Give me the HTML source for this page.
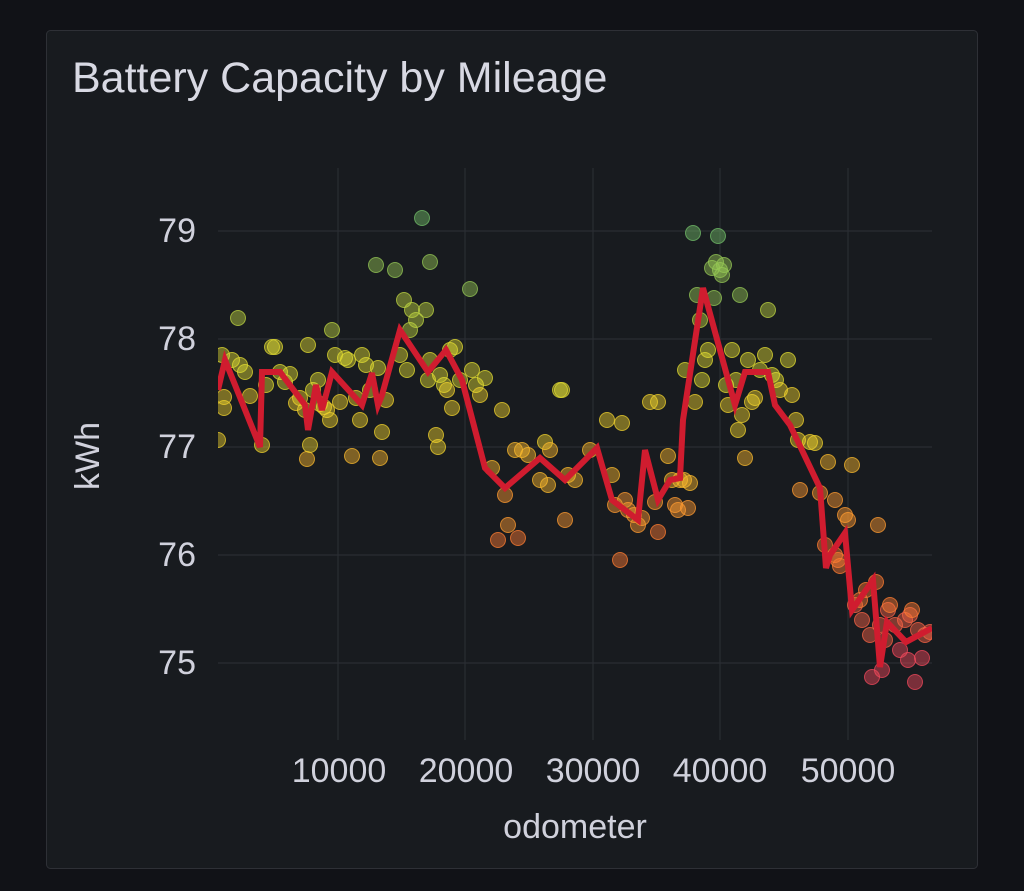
<!DOCTYPE html><html><head><style>
body{margin:0;background:#111217;width:1024px;height:886px;overflow:hidden;font-family:"Liberation Sans",sans-serif}
circle{stroke-width:1}
.g1{fill:rgba(115,191,105,.45);stroke:rgba(115,191,105,.75)}
.g2{fill:rgba(150,200,85,.45);stroke:rgba(150,200,85,.75)}
.g3{fill:rgba(190,212,65,.45);stroke:rgba(190,212,65,.75)}
.y1{fill:rgba(225,220,50,.45);stroke:rgba(225,220,50,.75)}
.y2{fill:rgba(240,210,45,.45);stroke:rgba(240,210,45,.75)}
.o1{fill:rgba(250,185,45,.45);stroke:rgba(250,185,45,.75)}
.o2{fill:rgba(255,155,48,.45);stroke:rgba(255,155,48,.75)}
.o3{fill:rgba(255,125,50,.45);stroke:rgba(255,125,50,.75)}
.r1{fill:rgba(248,100,70,.45);stroke:rgba(248,100,70,.75)}
.r2{fill:rgba(242,73,92,.45);stroke:rgba(242,73,92,.75)}
</style></head><body>
<svg width="1024" height="886" xmlns="http://www.w3.org/2000/svg">
<rect x="0" y="0" width="1024" height="886" fill="#111217"/>
<rect x="46.5" y="30.5" width="931" height="838" rx="4" fill="#181b1f" stroke="#2e3036"/>
<text x="72" y="92" font-size="43" fill="#d8d9e3">Battery Capacity by Mileage</text>
<g stroke="#2a2d33" stroke-width="1.2">
<line x1="218" x2="932" y1="231" y2="231"/><line x1="218" x2="932" y1="339" y2="339"/><line x1="218" x2="932" y1="447" y2="447"/><line x1="218" x2="932" y1="555" y2="555"/><line x1="218" x2="932" y1="663" y2="663"/>
<line x1="338" x2="338" y1="168" y2="740"/><line x1="465" x2="465" y1="168" y2="740"/><line x1="593" x2="593" y1="168" y2="740"/><line x1="720" x2="720" y1="168" y2="740"/><line x1="848" x2="848" y1="168" y2="740"/>
</g>
<g font-size="34" fill="#d0d1dc" text-anchor="end">
<text x="196" y="242">79</text><text x="196" y="350">78</text><text x="196" y="458">77</text><text x="196" y="566">76</text><text x="196" y="674">75</text></g>
<g font-size="34" fill="#d0d1dc" text-anchor="middle">
<text x="339" y="782">10000</text><text x="466" y="782">20000</text><text x="593" y="782">30000</text><text x="720" y="782">40000</text><text x="848" y="782">50000</text>
<text x="575" y="838">odometer</text>
<text transform="translate(99,456) rotate(-90)">kWh</text></g>
<defs><clipPath id="c"><rect x="218" y="160" width="714" height="590"/></clipPath></defs>
<g clip-path="url(#c)">
<circle class="y2" cx="218" cy="440" r="7.5"/><circle class="y1" cx="222" cy="355" r="7.5"/><circle class="y2" cx="224" cy="397" r="7.5"/><circle class="y2" cx="224" cy="408" r="7.5"/><circle class="y1" cx="232" cy="360" r="7.5"/><circle class="g3" cx="238" cy="318" r="7.5"/><circle class="y1" cx="240" cy="365" r="7.5"/><circle class="y1" cx="245" cy="372" r="7.5"/><circle class="y2" cx="250" cy="396" r="7.5"/><circle class="y2" cx="262" cy="445" r="7.5"/>
<circle class="y1" cx="266" cy="385" r="7.5"/><circle class="y1" cx="272" cy="347" r="7.5"/><circle class="y1" cx="275" cy="347" r="7.5"/><circle class="y1" cx="280" cy="372" r="7.5"/><circle class="y1" cx="285" cy="382" r="7.5"/><circle class="y1" cx="290" cy="374" r="7.5"/><circle class="y2" cx="296" cy="403" r="7.5"/><circle class="y2" cx="300" cy="398" r="7.5"/><circle class="y2" cx="305" cy="410" r="7.5"/><circle class="o1" cx="307" cy="459" r="7.5"/>
<circle class="y1" cx="308" cy="345" r="7.5"/><circle class="y2" cx="310" cy="445" r="7.5"/><circle class="y1" cx="313" cy="390" r="7.5"/><circle class="y1" cx="318" cy="380" r="7.5"/><circle class="y2" cx="320" cy="404" r="7.5"/><circle class="y2" cx="324" cy="407" r="7.5"/><circle class="y2" cx="327" cy="410" r="7.5"/><circle class="y2" cx="330" cy="420" r="7.5"/><circle class="g3" cx="332" cy="330" r="7.5"/><circle class="y1" cx="335" cy="355" r="7.5"/>
<circle class="y2" cx="340" cy="402" r="7.5"/><circle class="y1" cx="345" cy="358" r="7.5"/><circle class="y1" cx="348" cy="360" r="7.5"/><circle class="o1" cx="352" cy="456" r="7.5"/><circle class="y2" cx="356" cy="398" r="7.5"/><circle class="y2" cx="360" cy="420" r="7.5"/><circle class="y1" cx="362" cy="355" r="7.5"/><circle class="y1" cx="366" cy="365" r="7.5"/><circle class="y1" cx="370" cy="390" r="7.5"/><circle class="g2" cx="376" cy="265" r="7.5"/>
<circle class="y1" cx="378" cy="368" r="7.5"/><circle class="o1" cx="380" cy="458" r="7.5"/><circle class="y2" cx="382" cy="432" r="7.5"/><circle class="y2" cx="386" cy="400" r="7.5"/><circle class="g2" cx="395" cy="270" r="7.5"/><circle class="y1" cx="400" cy="355" r="7.5"/><circle class="g3" cx="404" cy="300" r="7.5"/><circle class="y1" cx="407" cy="370" r="7.5"/><circle class="g3" cx="410" cy="330" r="7.5"/><circle class="g3" cx="412" cy="310" r="7.5"/>
<circle class="g3" cx="416" cy="320" r="7.5"/><circle class="g1" cx="422" cy="218" r="7.5"/><circle class="g3" cx="426" cy="310" r="7.5"/><circle class="y1" cx="428" cy="380" r="7.5"/><circle class="g2" cx="430" cy="262" r="7.5"/><circle class="y1" cx="430" cy="360" r="7.5"/><circle class="y2" cx="436" cy="435" r="7.5"/><circle class="y2" cx="438" cy="447" r="7.5"/><circle class="y1" cx="440" cy="375" r="7.5"/><circle class="y1" cx="444" cy="385" r="7.5"/>
<circle class="y2" cx="447" cy="390" r="7.5"/><circle class="y1" cx="450" cy="350" r="7.5"/><circle class="y1" cx="455" cy="347" r="7.5"/><circle class="y2" cx="452" cy="408" r="7.5"/><circle class="y1" cx="460" cy="380" r="7.5"/><circle class="g2" cx="470" cy="289" r="7.5"/><circle class="y1" cx="472" cy="370" r="7.5"/><circle class="y1" cx="476" cy="385" r="7.5"/><circle class="y2" cx="480" cy="395" r="7.5"/><circle class="y1" cx="485" cy="378" r="7.5"/>
<circle class="o1" cx="492" cy="468" r="7.5"/><circle class="o3" cx="498" cy="540" r="7.5"/><circle class="y2" cx="502" cy="410" r="7.5"/><circle class="o2" cx="505" cy="495" r="7.5"/><circle class="o2" cx="508" cy="525" r="7.5"/><circle class="o1" cx="515" cy="450" r="7.5"/><circle class="o3" cx="518" cy="538" r="7.5"/><circle class="o1" cx="522" cy="450" r="7.5"/><circle class="o1" cx="528" cy="455" r="7.5"/><circle class="o1" cx="540" cy="480" r="7.5"/>
<circle class="y2" cx="545" cy="442" r="7.5"/><circle class="o1" cx="548" cy="485" r="7.5"/><circle class="o1" cx="550" cy="450" r="7.5"/><circle class="y1" cx="560" cy="390" r="7.5"/><circle class="y1" cx="562" cy="390" r="7.5"/><circle class="o2" cx="565" cy="520" r="7.5"/><circle class="o1" cx="568" cy="475" r="7.5"/><circle class="o1" cx="575" cy="480" r="7.5"/><circle class="o1" cx="590" cy="450" r="7.5"/><circle class="y2" cx="607" cy="420" r="7.5"/>
<circle class="o1" cx="612" cy="475" r="7.5"/><circle class="o2" cx="615" cy="505" r="7.5"/><circle class="o3" cx="620" cy="560" r="7.5"/><circle class="y2" cx="622" cy="423" r="7.5"/><circle class="o2" cx="625" cy="500" r="7.5"/><circle class="o2" cx="628" cy="510" r="7.5"/><circle class="o2" cx="634" cy="515" r="7.5"/><circle class="o2" cx="638" cy="525" r="7.5"/><circle class="o2" cx="642" cy="518" r="7.5"/><circle class="y2" cx="650" cy="402" r="7.5"/>
<circle class="o2" cx="655" cy="502" r="7.5"/><circle class="y2" cx="658" cy="402" r="7.5"/><circle class="o3" cx="658" cy="532" r="7.5"/><circle class="o1" cx="668" cy="456" r="7.5"/><circle class="o1" cx="672" cy="480" r="7.5"/><circle class="o2" cx="675" cy="505" r="7.5"/><circle class="o2" cx="678" cy="510" r="7.5"/><circle class="o1" cx="680" cy="480" r="7.5"/><circle class="o1" cx="684" cy="480" r="7.5"/><circle class="y1" cx="685" cy="370" r="7.5"/>
<circle class="o2" cx="688" cy="508" r="7.5"/><circle class="o1" cx="690" cy="483" r="7.5"/><circle class="g1" cx="693" cy="233" r="7.5"/><circle class="y2" cx="695" cy="402" r="7.5"/><circle class="g2" cx="697" cy="295" r="7.5"/><circle class="g3" cx="700" cy="320" r="7.5"/><circle class="y1" cx="702" cy="380" r="7.5"/><circle class="y1" cx="705" cy="360" r="7.5"/><circle class="y1" cx="708" cy="350" r="7.5"/><circle class="g2" cx="712" cy="268" r="7.5"/>
<circle class="g2" cx="714" cy="298" r="7.5"/><circle class="g2" cx="716" cy="262" r="7.5"/><circle class="g1" cx="718" cy="236" r="7.5"/><circle class="g2" cx="720" cy="270" r="7.5"/><circle class="g2" cx="722" cy="275" r="7.5"/><circle class="g2" cx="724" cy="265" r="7.5"/><circle class="y1" cx="726" cy="385" r="7.5"/><circle class="y2" cx="728" cy="405" r="7.5"/><circle class="y1" cx="732" cy="350" r="7.5"/><circle class="y1" cx="736" cy="380" r="7.5"/>
<circle class="y2" cx="738" cy="430" r="7.5"/><circle class="g2" cx="740" cy="295" r="7.5"/><circle class="y2" cx="742" cy="415" r="7.5"/><circle class="o1" cx="745" cy="458" r="7.5"/><circle class="y1" cx="748" cy="360" r="7.5"/><circle class="y2" cx="752" cy="402" r="7.5"/><circle class="y2" cx="755" cy="398" r="7.5"/><circle class="y1" cx="760" cy="370" r="7.5"/><circle class="y1" cx="765" cy="355" r="7.5"/><circle class="g3" cx="768" cy="310" r="7.5"/>
<circle class="y1" cx="772" cy="375" r="7.5"/><circle class="y1" cx="776" cy="380" r="7.5"/><circle class="y2" cx="780" cy="390" r="7.5"/><circle class="y1" cx="788" cy="360" r="7.5"/><circle class="y2" cx="792" cy="395" r="7.5"/><circle class="y2" cx="796" cy="420" r="7.5"/><circle class="y2" cx="798" cy="440" r="7.5"/><circle class="o2" cx="800" cy="490" r="7.5"/><circle class="y2" cx="810" cy="442" r="7.5"/><circle class="y2" cx="815" cy="443" r="7.5"/>
<circle class="o2" cx="820" cy="493" r="7.5"/><circle class="o3" cx="825" cy="545" r="7.5"/><circle class="o1" cx="828" cy="462" r="7.5"/><circle class="o2" cx="835" cy="500" r="7.5"/><circle class="o3" cx="835" cy="555" r="7.5"/><circle class="o3" cx="838" cy="560" r="7.5"/><circle class="o3" cx="840" cy="566" r="7.5"/><circle class="o2" cx="845" cy="515" r="7.5"/><circle class="o2" cx="848" cy="520" r="7.5"/><circle class="o1" cx="852" cy="465" r="7.5"/>
<circle class="r1" cx="855" cy="605" r="7.5"/><circle class="o3" cx="860" cy="600" r="7.5"/><circle class="r1" cx="862" cy="620" r="7.5"/><circle class="o3" cx="866" cy="590" r="7.5"/><circle class="r1" cx="870" cy="635" r="7.5"/><circle class="r2" cx="872" cy="677" r="7.5"/><circle class="o3" cx="876" cy="582" r="7.5"/><circle class="o2" cx="878" cy="525" r="7.5"/><circle class="r1" cx="880" cy="625" r="7.5"/><circle class="r2" cx="882" cy="670" r="7.5"/>
<circle class="r1" cx="885" cy="640" r="7.5"/><circle class="r1" cx="888" cy="610" r="7.5"/><circle class="o3" cx="890" cy="605" r="7.5"/><circle class="r1" cx="895" cy="625" r="7.5"/><circle class="r2" cx="900" cy="650" r="7.5"/><circle class="r1" cx="905" cy="620" r="7.5"/><circle class="r2" cx="908" cy="660" r="7.5"/><circle class="r1" cx="910" cy="615" r="7.5"/><circle class="o3" cx="912" cy="610" r="7.5"/><circle class="r2" cx="915" cy="682" r="7.5"/>
<circle class="r1" cx="918" cy="630" r="7.5"/><circle class="r2" cx="922" cy="658" r="7.5"/><circle class="r1" cx="925" cy="635" r="7.5"/><circle class="r1" cx="930" cy="632" r="7.5"/>
</g>
<polyline clip-path="url(#c)" fill="none" stroke="#d01c2f" stroke-width="6" points="218,390 225,360 260,447 262,372 280,372 305,405 308,430 316,385 322,410 332,372 362,405 372,373 378,405 382,395 400,330 428,372 446,350 462,380 485,468 505,488 540,458 565,480 597,448 612,500 638,520 645,450 658,500 670,480 680,478 683,420 703,288 735,405 745,372 768,372 775,405 790,425 820,488 826,568 830,555 845,533 852,610 873,580 880,667 887,622 906,642 932,628"/>
</svg>
</body></html>
